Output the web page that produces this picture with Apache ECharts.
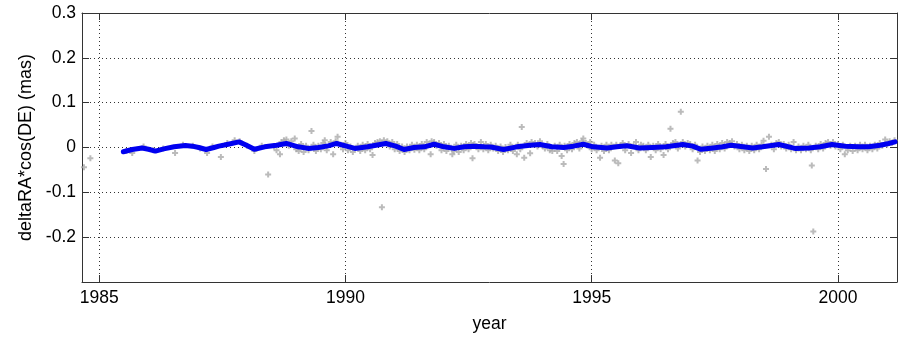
<!DOCTYPE html>
<html>
<head>
<meta charset="utf-8">
<script src="https://cdn.jsdelivr.net/npm/echarts@6/dist/echarts.min.js"></script>
<style>
  html, body { margin: 0; padding: 0; background: #ffffff; }
  #chart { width: 898px; height: 338px; }
</style>
</head>
<body>
<div id="chart"></div>
<script>
// Axis ticks
const yearTicks = [1985, 1990, 1995, 2000];
const yearRange = [1984.65, 2001.2];
const valueRange = [-0.3, 0.3];

// Smoothed series (year, mas)
const trendYears = [
  1985.49, 1985.67, 1985.87, 1986.0, 1986.14, 1986.31, 1986.52, 1986.75, 1986.89, 1987.02,
  1987.17, 1987.33, 1987.43, 1987.62, 1987.84, 1987.99, 1988.15, 1988.36, 1988.6, 1988.8,
  1989.04, 1989.24, 1989.45, 1989.65, 1989.82, 1990.02, 1990.19, 1990.45, 1990.82, 1991.02,
  1991.19, 1991.39, 1991.6, 1991.8, 1992.0, 1992.21, 1992.41, 1992.61, 1992.82, 1992.95,
  1993.21, 1993.48, 1993.75, 1993.95, 1994.19, 1994.43, 1994.63, 1994.83, 1995.03, 1995.31,
  1995.51, 1995.71, 1995.97, 1996.24, 1996.51, 1996.85, 1997.05, 1997.22, 1997.46, 1997.66,
  1997.83, 1998.07, 1998.27, 1998.47, 1998.8, 1999.13, 1999.41, 1999.64, 1999.88, 2000.15,
  2000.42, 2000.62, 2000.86, 2001.03, 2001.16
];
const trendValues = [
  -0.0095, -0.0044, -0.001, -0.004, -0.008, -0.003, 0.0015, 0.0044, 0.003, 0.0,
  -0.0044, 0.0, 0.003, 0.0073, 0.0125, 0.005, -0.004, 0.0015, 0.005, 0.009,
  0.0015, -0.002, 0.0, 0.0037, 0.009, 0.003, -0.002, 0.0015, 0.009, 0.003,
  -0.0044, 0.0, 0.0015, 0.0073, 0.0015, -0.002, 0.0015, 0.003, 0.0015, 0.001,
  -0.0044, 0.0015, 0.005, 0.0066, 0.0015, 0.0, 0.003, 0.0073, 0.0015, -0.001,
  0.0015, 0.0037, -0.001, 0.0, 0.0015, 0.0066, 0.003, -0.004, -0.001, 0.0015,
  0.005, 0.0015, -0.001, 0.0015, 0.0066, -0.002, -0.001, 0.0015, 0.0066, 0.003,
  0.0015, 0.0015, 0.005, 0.009, 0.0125
];

// Individual observations [year, mas]
const observations = [
  [1984.69, -0.044], [1984.82, -0.024],
  [1985.55, -0.008], [1985.67, -0.012], [1985.9, 0.002], [1986.1, -0.006], [1986.3, -0.002],
  [1986.54, -0.012], [1986.7, 0.006], [1986.9, 0.004], [1987.05, -0.002], [1987.19, -0.012],
  [1987.3, 0.002], [1987.47, -0.021], [1987.6, 0.01], [1987.75, 0.016], [1987.85, 0.014],
  [1988.0, 0.004], [1988.15, -0.008], [1988.3, 0.004], [1988.43, -0.06],
  [1988.55, 0.002], [1988.6, -0.006], [1988.67, -0.015], [1988.7, 0.012], [1988.75, 0.016],
  [1988.8, 0.018], [1988.85, 0.004], [1988.9, 0.014], [1988.97, 0.02], [1989.0, -0.004],
  [1989.05, -0.008], [1989.1, 0.008], [1989.15, -0.01], [1989.2, 0.004], [1989.25, -0.006],
  [1989.31, 0.037], [1989.35, 0.006], [1989.4, -0.008], [1989.45, 0.004], [1989.5, -0.004],
  [1989.55, 0.01], [1989.58, 0.016], [1989.62, -0.006], [1989.7, 0.012], [1989.75, -0.015],
  [1989.8, 0.014], [1989.84, 0.024], [1989.9, 0.006], [1989.95, -0.004], [1990.0, 0.01],
  [1990.05, -0.006], [1990.1, 0.002], [1990.15, -0.01],
  [1990.25, 0.004], [1990.3, -0.008], [1990.35, 0.006], [1990.4, -0.006], [1990.45, 0.008],
  [1990.5, -0.004], [1990.55, -0.017], [1990.6, 0.01], [1990.65, 0.012], [1990.74, -0.133],
  [1990.7, 0.014], [1990.78, 0.016], [1990.85, 0.014], [1990.9, 0.002], [1990.95, 0.012],
  [1991.0, -0.004], [1991.05, 0.008], [1991.1, -0.008], [1991.15, 0.002], [1991.2, -0.01],
  [1991.25, 0.002], [1991.3, -0.006], [1991.35, 0.006], [1991.4, -0.005], [1991.45, 0.006],
  [1991.5, -0.006], [1991.55, 0.008], [1991.6, -0.004], [1991.65, 0.012], [1991.73, -0.015],
  [1991.75, 0.014], [1991.8, 0.012], [1991.85, 0.004], [1991.9, 0.01], [1991.95, -0.006],
  [1992.0, 0.008], [1992.05, -0.008], [1992.1, 0.004], [1992.17, -0.015], [1992.2, -0.008],
  [1992.25, 0.006], [1992.3, -0.01], [1992.35, 0.004], [1992.4, -0.006], [1992.45, 0.008],
  [1992.5, -0.004], [1992.55, 0.01], [1992.58, -0.024], [1992.62, 0.008], [1992.7, -0.004],
  [1992.75, 0.012], [1992.8, -0.004], [1992.85, 0.008], [1992.9, -0.006], [1992.95, 0.006],
  [1993.0, -0.002], [1993.05, 0.004], [1993.1, -0.008], [1993.15, 0.002], [1993.2, -0.01],
  [1993.25, 0.001], [1993.3, -0.006], [1993.35, 0.006], [1993.4, -0.008], [1993.48, -0.015],
  [1993.5, 0.006], [1993.55, -0.004], [1993.58, 0.046], [1993.63, -0.023], [1993.68, 0.01],
  [1993.75, -0.013], [1993.78, 0.012], [1993.85, 0.01], [1993.9, 0.002], [1993.95, 0.014],
  [1994.0, 0.004], [1994.05, -0.002], [1994.1, 0.008], [1994.15, -0.006], [1994.2, -0.008],
  [1994.25, 0.004], [1994.3, -0.008], [1994.35, 0.006], [1994.39, -0.019], [1994.43, -0.037],
  [1994.45, 0.004], [1994.5, -0.006], [1994.55, 0.008], [1994.6, -0.004], [1994.65, 0.01],
  [1994.7, 0.012], [1994.75, -0.002], [1994.8, 0.014], [1994.83, 0.02], [1994.88, 0.01],
  [1994.92, 0.004], [1994.97, 0.012], [1995.0, -0.004], [1995.05, 0.006], [1995.1, -0.006],
  [1995.17, -0.023], [1995.2, 0.004], [1995.25, -0.008], [1995.3, 0.006], [1995.35, -0.006],
  [1995.4, 0.006], [1995.47, -0.029], [1995.5, 0.006], [1995.54, -0.035], [1995.58, 0.004],
  [1995.63, 0.01], [1995.68, -0.006],
  [1995.75, 0.008], [1995.8, -0.012], [1995.85, 0.004], [1995.9, 0.012], [1995.95, -0.006],
  [1996.0, 0.006], [1996.05, 0.004], [1996.1, -0.006], [1996.15, 0.006], [1996.2, -0.021],
  [1996.25, 0.004], [1996.3, -0.006], [1996.35, 0.008], [1996.4, -0.004], [1996.46, -0.017],
  [1996.5, 0.008], [1996.55, -0.004], [1996.6, 0.042], [1996.65, 0.01], [1996.7, 0.012],
  [1996.75, -0.002], [1996.81, 0.08], [1996.85, 0.012], [1996.9, 0.002], [1996.95, 0.01],
  [1997.0, 0.008], [1997.05, -0.004], [1997.1, 0.006], [1997.15, -0.029], [1997.2, -0.01],
  [1997.25, 0.002], [1997.3, -0.008], [1997.35, 0.004], [1997.4, -0.006], [1997.45, 0.006],
  [1997.5, -0.008], [1997.55, 0.008], [1997.6, -0.004], [1997.65, 0.01], [1997.7, -0.002],
  [1997.75, 0.012], [1997.8, 0.01], [1997.85, 0.014], [1997.9, 0.002], [1997.95, 0.008],
  [1998.0, -0.004], [1998.05, 0.006], [1998.1, -0.006], [1998.15, 0.004], [1998.2, -0.008],
  [1998.25, 0.004], [1998.3, -0.006], [1998.35, 0.006], [1998.4, -0.004], [1998.45, 0.006],
  [1998.49, 0.015], [1998.54, -0.048], [1998.6, 0.024], [1998.65, 0.006], [1998.7, -0.004],
  [1998.75, 0.01], [1998.8, 0.012], [1998.85, 0.002], [1998.9, 0.008], [1998.95, -0.002],
  [1999.0, 0.006], [1999.05, -0.004], [1999.1, 0.0125], [1999.15, -0.006], [1999.2, 0.002],
  [1999.25, -0.006], [1999.3, 0.004], [1999.35, -0.004], [1999.4, 0.006], [1999.45, -0.006],
  [1999.47, -0.04], [1999.5, -0.1875], [1999.55, 0.004], [1999.6, -0.004], [1999.65, 0.008],
  [1999.7, -0.002], [1999.75, 0.01], [1999.8, 0.012], [1999.85, 0.004], [1999.9, 0.012],
  [1999.95, 0.002], [2000.0, 0.008], [2000.05, -0.004], [2000.1, 0.006], [2000.14, -0.015],
  [2000.2, -0.006], [2000.25, 0.004], [2000.3, -0.008], [2000.35, 0.004], [2000.4, -0.006],
  [2000.45, 0.006], [2000.5, -0.004], [2000.55, 0.006], [2000.6, -0.006], [2000.65, 0.004],
  [2000.7, -0.004], [2000.75, 0.006], [2000.8, -0.002], [2000.85, 0.01], [2000.9, 0.004],
  [2000.96, 0.018], [2001.0, 0.006], [2001.05, 0.014], [2001.1, 0.01], [2001.15, 0.016]
];

const FONT = 'Liberation Sans, Arial, sans-serif';
const AXIS_COLOR = '#333333';
const GRID_DOT = { color: '#333333', width: 1, type: [1, 3] };

const chart = echarts.init(document.getElementById('chart'), null, { renderer: 'canvas' });

const trendData = trendYears.map((y, i) => [y, trendValues[i]]);

function formatValue(v) {
  const r = Math.round(v * 10) / 10;
  if (Math.abs(r + 0.3) < 1e-9) return '';
  if (Math.abs(r) < 1e-9) return '0';
  return r.toFixed(1);
}

chart.setOption({
  animation: false,
  backgroundColor: '#ffffff',
  grid: { left: 82, right: 1, top: 13, bottom: 53, containLabel: false },
  xAxis: [
    {
      type: 'value', position: 'bottom',
      min: yearRange[0], max: yearRange[1],
      name: 'year', nameLocation: 'middle', nameGap: 33,
      nameTextStyle: { color: '#000', fontFamily: FONT, fontSize: 17.5 },
      axisLine: { show: true, onZero: false, lineStyle: { color: AXIS_COLOR, width: 1 } },
      axisTick: { show: true, inside: true, length: 7, customValues: yearTicks, lineStyle: { color: AXIS_COLOR } },
      axisLabel: { show: true, customValues: yearTicks, margin: 7, color: '#000', fontFamily: FONT, fontSize: 17.5,
        formatter: v => String(Math.round(v)) },
      splitLine: { show: true, lineStyle: GRID_DOT }
    },
    {
      type: 'value', position: 'top',
      min: yearRange[0], max: yearRange[1],
      axisLine: { show: true, onZero: false, lineStyle: { color: AXIS_COLOR, width: 1 } },
      axisTick: { show: true, inside: true, length: 7, customValues: yearTicks, lineStyle: { color: AXIS_COLOR } },
      axisLabel: { show: false },
      splitLine: { show: false }
    }
  ],
  yAxis: [
    {
      type: 'value', position: 'left',
      min: valueRange[0], max: valueRange[1], interval: 0.1,
      name: 'deltaRA*cos(DE) (mas)', nameLocation: 'middle', nameGap: 44, nameRotate: 90,
      nameTextStyle: { color: '#000', fontFamily: FONT, fontSize: 18 },
      axisLine: { show: true, onZero: false, lineStyle: { color: AXIS_COLOR, width: 1 } },
      axisTick: { show: true, inside: true, length: 7, lineStyle: { color: AXIS_COLOR } },
      axisLabel: { show: true, margin: 6, color: '#000', fontFamily: FONT, fontSize: 17.5, formatter: formatValue },
      splitLine: { show: true, lineStyle: GRID_DOT }
    },
    {
      type: 'value', position: 'right',
      min: valueRange[0], max: valueRange[1], interval: 0.1,
      axisLine: { show: true, onZero: false, lineStyle: { color: AXIS_COLOR, width: 1 } },
      axisTick: { show: true, inside: true, length: 7, lineStyle: { color: AXIS_COLOR } },
      axisLabel: { show: false },
      splitLine: { show: false }
    }
  ],
  series: [
    {
      name: 'observations', type: 'scatter',
      xAxisIndex: 0, yAxisIndex: 0,
      data: observations,
      symbol: 'path://M0,2H6V4H0Z M2,0H4V6H2Z',
      symbolSize: 6,
      itemStyle: { color: '#aaaaaa' },
      silent: true
    },
    {
      name: 'smoothed', type: 'line',
      xAxisIndex: 0, yAxisIndex: 0,
      data: trendData,
      showSymbol: false, symbol: 'none',
      lineStyle: { color: '#0000f0', width: 5, join: 'round', cap: 'round' },
      silent: true
    }
  ]
});
</script>
</body>
</html>
